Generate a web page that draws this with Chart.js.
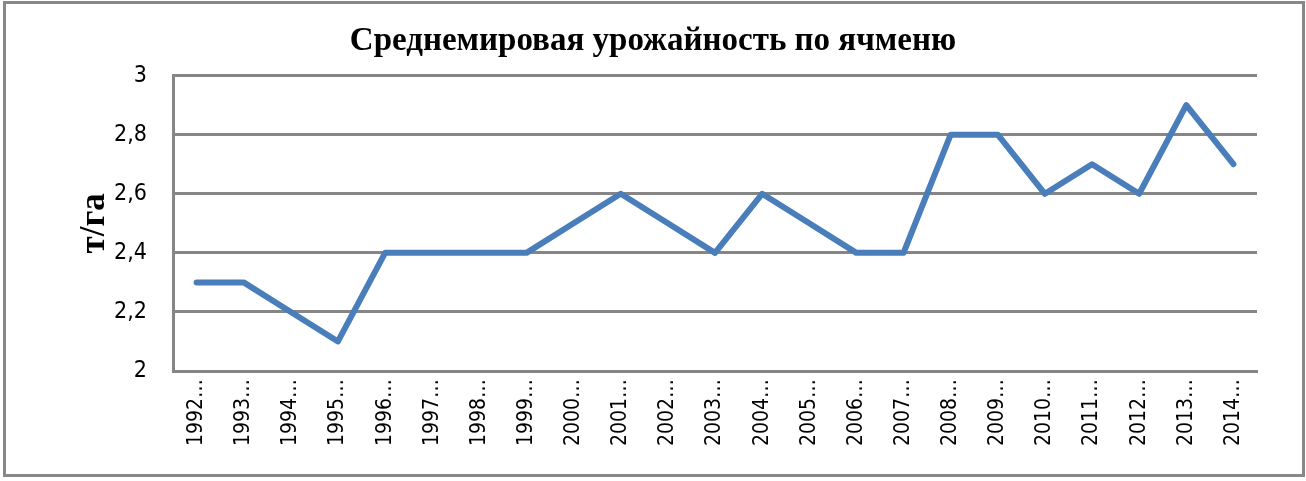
<!DOCTYPE html>
<html>
<head>
<meta charset="utf-8">
<script src="https://cdn.jsdelivr.net/npm/chart.js@4.4.0/dist/chart.umd.min.js"></script>
<style>
  html, body { margin: 0; padding: 0; background: #fff; }
  #wrap { position: relative; width: 1306px; height: 481px; }
  #frame { position: absolute; left: 3px; top: 1px; width: 1296px; height: 470px;
           border: 3px solid #888; pointer-events: none; }
</style>
</head>
<body>
<div id="wrap">
  <canvas id="barleyChart" width="1306" height="481"></canvas>
  <div id="frame"></div>
</div>
<script>
const years = ["1992", "1993", "1994", "1995", "1996", "1997", "1998", "1999", "2000", "2001", "2002",
  "2003", "2004", "2005", "2006", "2007", "2008", "2009", "2010", "2011", "2012", "2013", "2014"];
const tickLabels = years.map(y => y + "…");
const yieldValues = [2.3, 2.3, 2.2, 2.1, 2.4, 2.4, 2.4, 2.4, 2.5, 2.6, 2.5,
  2.4, 2.6, 2.5, 2.4, 2.4, 2.8, 2.8, 2.6, 2.7, 2.6, 2.9, 2.7];

const tickFont = "'DejaVu Sans Condensed', 'Liberation Sans Narrow', 'Liberation Sans', sans-serif";
const ctx = document.getElementById("barleyChart");

new Chart(ctx, {
  type: "line",
  data: {
    labels: tickLabels,
    datasets: [{
      label: "т/га",
      data: yieldValues,
      borderColor: "#4a7ebb",
      borderWidth: 6,
      borderJoinStyle: "round",
      borderCapStyle: "round",
      pointRadius: 0,
      tension: 0
    }]
  },
  options: {
    responsive: false,
    animation: false,
    layout: { padding: 0 },
    plugins: {
      legend: { display: false },
      tooltip: { enabled: false },
      title: {
        display: true,
        text: "Среднемировая урожайность по ячменю",
        color: "#000",
        font: { family: "'Liberation Serif', 'Times New Roman', serif", size: 33, weight: "bold" },
        padding: { top: 22, bottom: 14 }
      }
    },
    scales: {
      x: {
        offset: true,
        grid: { display: false },
        border: { display: true, color: "#868686", width: 3 },
        ticks: {
          color: "#000",
          minRotation: 90,
          maxRotation: 90,
          autoSkip: false,
          padding: 0,
          font: { family: tickFont, size: 21 }
        },
        afterFit: s => { s.height = 110; }
      },
      y: {
        min: 2,
        max: 3,
        grid: { color: "#868686", lineWidth: 3, drawTicks: false },
        border: { display: true, color: "#868686", width: 3 },
        ticks: {
          stepSize: 0.2,
          color: "#000",
          padding: 26,
          font: { family: tickFont, size: 23 },
          callback: v => String(Number(v.toFixed(1))).replace(".", ",")
        },
        title: {
          display: true,
          text: "т/га",
          color: "#000",
          font: { family: "'Liberation Serif', 'Times New Roman', serif", size: 35, weight: "bold" },
          padding: { top: 74, bottom: 0 }
        },
        afterFit: s => { s.width = 173; }
      },
      // empty right-hand gap so the title stays centred on the whole canvas
      spacer: {
        type: "linear",
        position: "right",
        display: true,
        grid: { display: false },
        border: { display: false },
        ticks: { display: false },
        afterFit: s => { s.width = 49; }
      }
    }
  }
});
</script>
</body>
</html>
